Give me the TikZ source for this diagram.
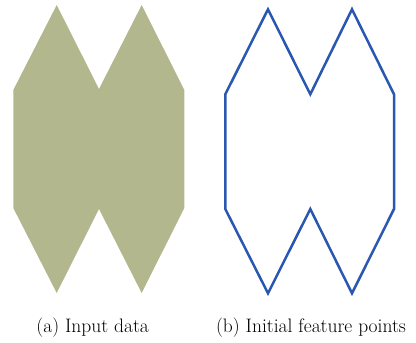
\documentclass[tikz,border=0pt]{standalone}
\definecolor{olivefill}{RGB}{178,183,142}
\definecolor{outlineblue}{RGB}{42,88,176}
\tikzset{
  caption/.style={anchor=base, font=\fontsize{19.5}{23}\selectfont, inner sep=0pt},
  solidshape/.style={fill=olivefill, draw=none},
  outlineshape/.style={draw=outlineblue, line width=2.5pt, line join=miter}
}
\begin{document}
\begin{tikzpicture}[x=1pt,y=-1pt]
\useasboundingbox (0,0) rectangle (416,343);
% (a) filled double-hexagon
\fill[solidshape] (56.7,5) -- (99,89) -- (141.7,5) -- (184.3,90) -- (184.3,208)
  -- (141.7,293) -- (99,209) -- (56.7,293) -- (13.3,208) -- (13.3,90) -- cycle;
% (b) outline through the initial feature points
\draw[outlineshape] (268,9.3) -- (310.3,94.3) -- (352,9.3) -- (394,94.3) -- (394,209)
  -- (352,293.3) -- (310.3,209) -- (268,293.3) -- (225.3,209) -- (225.3,94.3) -- cycle;
\node[caption] (capa) at (92.7,332) {(a) Input data};
\node[caption] (capb) at (311,332) {(b) Initial feature points};
\end{tikzpicture}
\end{document}
